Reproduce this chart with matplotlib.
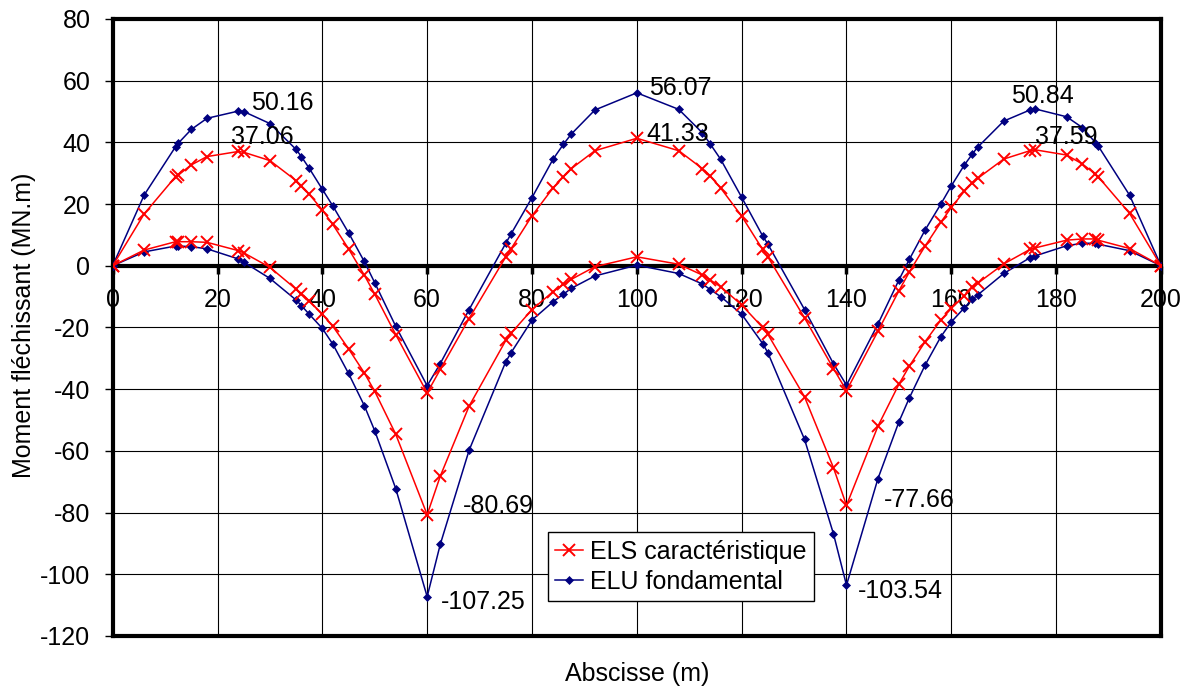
import numpy as np
import matplotlib.pyplot as plt

plt.rcParams['font.family'] = ['Liberation Sans', 'DejaVu Sans']
plt.rcParams['axes.unicode_minus'] = False

# abscissae of the computed sections (m)
abscisse = [0, 6, 12, 12.5, 15, 18, 24, 25, 30, 35, 36, 37.5, 40, 42, 45, 48, 50, 54, 60,
            62.5, 68, 75, 76, 80, 84, 86, 87.5, 92, 100, 108, 112.5, 114, 116, 120, 124, 125, 132, 137.5, 140,
            146, 150, 152, 155, 158, 160, 162.5, 164, 165, 170, 175, 176, 182, 185, 187.5, 188, 194, 200]

# ELS caracteristique envelope (MN.m)
els_max = [0, 16.8, 28.9, 29.4, 32.7, 35.4, 37.06, 36.8, 34.1, 27.6, 25.9, 23.2, 18.1, 13.4, 5.5, -3.0, -9.2, -22.3, -41.2,
           -33.6, -17.1, 2.9, 5.5, 16.2, 25.2, 28.9, 31.5, 37.3, 41.33, 37.3, 31.5, 29.1, 25.2, 16.1, 5.3, 2.9, -16.9, -33.3, -40.5,
           -21.2, -8.1, -2.0, 6.4, 14.1, 18.9, 24.2, 26.9, 28.3, 34.6, 37.3, 37.59, 35.9, 33.0, 29.7, 28.9, 17.0, 0]
els_min = [0, 5.1, 7.8, 7.8, 7.8, 7.6, 4.9, 4.2, -0.5, -7.6, -9.0, -11.4, -15.7, -19.6, -26.9, -34.7, -40.7, -54.6, -80.69,
           -68.2, -45.5, -24.2, -21.9, -14.2, -8.4, -6.0, -4.4, -0.3, 2.9, 0.5, -3.0, -4.6, -6.8, -12.7, -20.0, -22.2, -42.5, -65.4, -77.66,
           -52.0, -38.4, -32.5, -24.6, -17.6, -13.8, -9.7, -7.0, -5.7, 0.6, 5.3, 5.8, 8.3, 8.7, 8.7, 8.3, 5.6, 0]

# ELU fondamental envelope (MN.m)
elu_max = [0, 22.9, 38.6, 39.7, 44.2, 47.8, 50.16, 50.0, 46.1, 37.7, 35.4, 31.6, 24.8, 19.4, 10.7, 1.4, -5.5, -19.6, -38.9,
           -31.7, -14.2, 7.3, 10.3, 22.1, 34.5, 39.4, 42.7, 50.5, 56.07, 50.7, 43.1, 39.5, 34.5, 22.2, 9.7, 7.0, -14.2, -31.7, -38.7,
           -18.9, -4.6, 2.1, 11.6, 20.0, 25.9, 32.7, 36.2, 38.4, 46.9, 50.5, 50.84, 48.3, 44.8, 39.9, 38.9, 22.9, 0]
elu_min = [0, 4.5, 6.4, 6.4, 6.2, 5.5, 2.2, 1.2, -4.1, -11.1, -12.9, -15.7, -20.3, -25.4, -34.9, -45.3, -53.5, -72.2, -107.25,
           -90.3, -59.8, -31.1, -28.2, -17.6, -11.7, -9.2, -7.3, -3.3, 0.2, -2.5, -5.9, -7.7, -10.0, -15.7, -25.2, -28.2, -56.3, -86.8, -103.54,
           -69.0, -50.6, -42.8, -32.2, -23.0, -18.2, -13.6, -10.9, -9.5, -2.5, 2.6, 3.2, 6.5, 7.3, 7.3, 7.0, 4.9, 0]

x_ticks = np.arange(0, 201, 20)
y_ticks = np.arange(-120, 81, 20)

fig = plt.figure(figsize=(11.91, 6.93), dpi=100)
ax = fig.add_axes([0.0946, 0.0823, 0.8802, 0.8903])

els_style = dict(color='#ff0000', lw=1.1, marker='x', ms=8, mew=1.4)
elu_style = dict(color='#000080', lw=1.1, marker='D', ms=4, mew=0.5)

ax.plot(abscisse, els_max, label='ELS caractéristique', zorder=4, **els_style)
ax.plot(abscisse, els_min, zorder=4, **els_style)
ax.plot(abscisse, elu_max, label='ELU fondamental', zorder=3, **elu_style)
ax.plot(abscisse, elu_min, zorder=3, **elu_style)

# value labels on the extreme points: (series, abscissa, offset in pixels)
labels = [
    (elu_max, 24, 13, 8), (els_max, 24, -7, 14),
    (elu_max, 100, 12, 5), (els_max, 100, 10, 4),
    (elu_max, 176, -24, 13), (els_max, 176, 0, 13),
    (els_min, 60, 36, 9), (elu_min, 60, 14, -5),
    (els_min, 140, 37, 5), (elu_min, 140, 11, -6),
]
for serie, xv, dx, dy in labels:
    yv = serie[abscisse.index(xv)]
    ax.annotate('%.2f' % yv, (xv, yv), xytext=(dx, dy), textcoords='offset pixels',
                ha='left', va='center', fontsize=18, zorder=6)

ax.set_xlim(0, 200)
ax.set_ylim(-120, 80)
ax.set_xticks(x_ticks)
ax.set_yticks(y_ticks)
ax.grid(True, color='black', lw=0.8)
ax.set_axisbelow(True)

for side in ['left', 'right', 'top', 'bottom']:
    ax.spines[side].set_linewidth(3)
    ax.spines[side].set_color('black')
ax.spines['bottom'].set_position(('data', 0))
ax.spines['bottom'].set_zorder(2.5)
ax.axhline(-120, color='black', lw=3, clip_on=False, zorder=5)

ax.tick_params(axis='x', direction='out', length=6, width=2.5, pad=10, labelsize=18)
ax.tick_params(axis='y', direction='out', length=6, width=1, pad=10, labelsize=18)

leg = ax.legend(loc='lower left', bbox_to_anchor=(0.415, 0.056), fontsize=18,
                frameon=True, fancybox=False, edgecolor='black', framealpha=1,
                borderpad=0.3, labelspacing=0.25, handlelength=1.1, handletextpad=0.3,
                borderaxespad=0)
leg.get_frame().set_linewidth(1)
leg.set_zorder(7)

fig.text(637 / 1191, 1 - 674 / 693, 'Abscisse (m)', ha='center', va='center', fontsize=18)
fig.text(24 / 1191, 1 - 325 / 693, 'Moment fléchissant (MN.m)', ha='center', va='center',
         rotation=90, fontsize=18)

fig.savefig('out.png', dpi=100)
